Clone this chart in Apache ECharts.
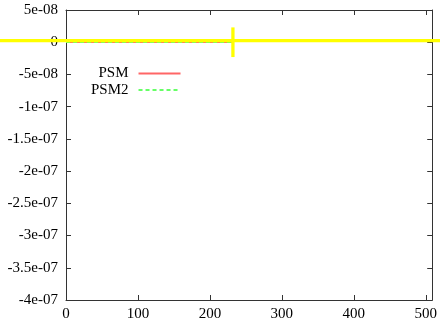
<!DOCTYPE html>
<html>
<head>
<meta charset="utf-8">
<script src="https://cdn.jsdelivr.net/npm/echarts@6/dist/echarts.min.js"></script>
<style>html,body{margin:0;padding:0;background:#fff;}#c{width:440px;height:326px;}</style>
</head>
<body>
<div id="c"></div>
<script>
// Data
var seriesNames = ['PSM', 'PSM2'];
var psmX = [0, 50, 100, 150, 200, 231];
var psmY = [0, 0, 0, 0, 0, 0];
var psm2X = [0, 50, 100, 150, 200, 231];
var psm2Y = [0, 0, 0, 0, 0, 0];
// yellow cross marker: [x, y, xLow, xHigh, yLow, yHigh]
var crossData = [[232, 0, -120, 560, -2.3e-8, 2.3e-8]];
var xTicks = [0, 100, 200, 300, 400, 500];

function fmtG(v) {
  if (Math.abs(v) < 1e-15) return '0';
  var s = v.toExponential(1);
  var m = s.split('e');
  var mant = m[0].replace(/\.0$/, '');
  var ex = parseInt(m[1], 10);
  var sign = ex < 0 ? '-' : '+';
  var a = Math.abs(ex);
  return mant + 'e' + sign + (a < 10 ? '0' + a : '' + a);
}

var font = 'Liberation Serif';
var axisCol = '#333';
var chart = echarts.init(document.getElementById('c'), null, {renderer: 'canvas'});
var option = {
  animation: false,
  backgroundColor: '#fff',
  grid: {left: 66, right: 5, top: 10, bottom: 26},
  legend: {
    orient: 'vertical',
    left: 91,
    top: 66,
    align: 'right',
    itemWidth: 42,
    itemHeight: 14,
    itemGap: 1.5,
    padding: 0,
    data: seriesNames,
    itemStyle: {opacity: 0},
    textStyle: {fontFamily: font, fontSize: 15, color: '#000', width: 37, align: 'right', padding: [0, 5, 0, 0]}
  },
  xAxis: [{
    type: 'value', min: 0, max: 509, interval: 100, position: 'bottom',
    axisLine: {show: true, onZero: false, lineStyle: {color: axisCol, width: 1}},
    axisTick: {show: true, inside: true, length: 5, lineStyle: {color: axisCol}},
    axisLabel: {fontFamily: font, fontSize: 15, color: '#000', margin: 7, showMaxLabel: false,
      formatter: function (v) { return xTicks.indexOf(v) >= 0 ? String(v) : ''; }},
    splitLine: {show: false}
  }, {
    type: 'value', min: 0, max: 509, interval: 100, position: 'top',
    axisLine: {show: true, onZero: false, lineStyle: {color: axisCol, width: 1}},
    axisTick: {show: true, inside: true, length: 5, lineStyle: {color: axisCol}},
    axisLabel: {show: false},
    splitLine: {show: false}
  }],
  yAxis: [{
    type: 'value', min: -4e-7, max: 5e-8, interval: 5e-8, position: 'left',
    axisLine: {show: true, onZero: false, lineStyle: {color: axisCol, width: 1}},
    axisTick: {show: true, inside: true, length: 5, lineStyle: {color: axisCol}},
    axisLabel: {fontFamily: font, fontSize: 15, color: '#000', margin: 8, formatter: fmtG},
    splitLine: {show: false}
  }, {
    type: 'value', min: -4e-7, max: 5e-8, interval: 5e-8, position: 'right',
    axisLine: {show: true, onZero: false, lineStyle: {color: axisCol, width: 1}},
    axisTick: {show: true, inside: true, length: 5, lineStyle: {color: axisCol}},
    axisLabel: {show: false},
    splitLine: {show: false}
  }],
  series: [{
    name: 'PSM', type: 'line', symbol: 'none', showSymbol: false,
    data: psmX.map(function (x, i) { return [x, psmY[i]]; }),
    lineStyle: {color: '#ff6666', width: 1.5},
    itemStyle: {color: '#ff6666'}
  }, {
    name: 'PSM2', type: 'line', symbol: 'none', showSymbol: false,
    data: psm2X.map(function (x, i) { return [x, psm2Y[i]]; }),
    lineStyle: {color: '#66ff66', width: 1.5, type: [4, 3]},
    itemStyle: {color: '#66ff66'}
  }, {
    name: 'cross', type: 'custom', clip: false, z: 10,
    data: crossData,
    renderItem: function (params, api) {
      var c = api.coord([api.value(0), api.value(1)]);
      var xl = api.coord([api.value(2), api.value(1)]);
      var xh = api.coord([api.value(3), api.value(1)]);
      var yl = api.coord([api.value(0), api.value(4)]);
      var yh = api.coord([api.value(0), api.value(5)]);
      var st = {stroke: '#ffff00', lineWidth: 3.3, fill: null};
      return {type: 'group', children: [
        {type: 'line', shape: {x1: xl[0], y1: c[1] - 1.6, x2: xh[0], y2: c[1] - 1.6}, style: st},
        {type: 'line', shape: {x1: c[0], y1: yl[1], x2: c[0], y2: yh[1]}, style: st}
      ]};
    }
  }]
};
chart.setOption(option);
</script>
</body>
</html>
